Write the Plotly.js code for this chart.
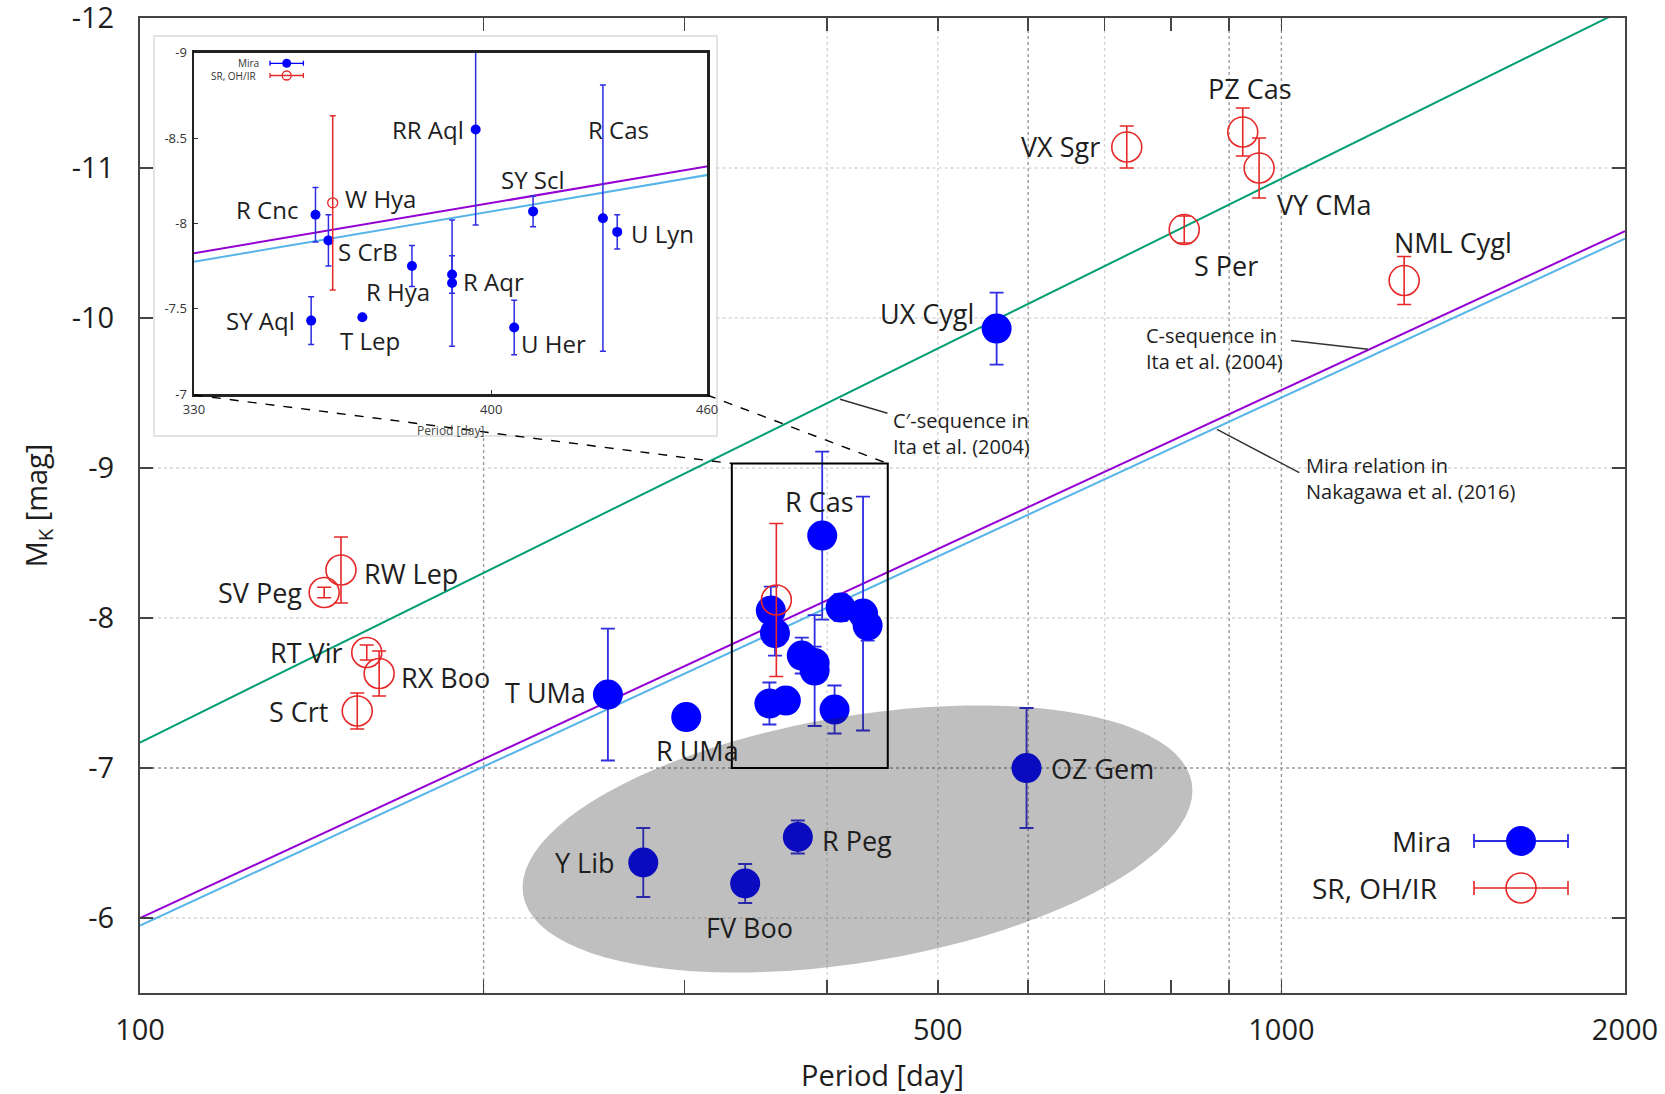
<!DOCTYPE html>
<html><head><meta charset="utf-8">
<script src="https://cdn.plot.ly/plotly-3.0.1.min.js"></script>
<style>html,body{margin:0;padding:0;background:#fff}#chart{width:1665px;height:1094px}</style>
</head><body><div id="chart"></div>
<script>
// ---------- DATA ----------
// Mira variables (filled blue)
const miraNames  = ["R Cnc","S CrB","SY Aql","T Lep","R Hya","R Aqr","R Aqr","RR Aql","SY Scl","U Her","R Cas","U Lyn","T UMa","R UMa","Y Lib","FV Boo","R Peg","OZ Gem","UX Cygl"];
const miraPeriod = [357, 360, 356, 368, 380, 390, 390, 396, 411, 406, 430, 434, 257, 301, 276, 339, 377, 598, 563];
const miraMK     = [-8.05,-7.90,-7.43,-7.45,-7.75,-7.70,-7.65,-8.55,-8.07,-7.39,-8.03,-7.95,-7.49,-7.34,-6.37,-6.23,-6.54,-7.00,-9.93];
const miraErr    = [0.16, 0.15, 0.14, 0.00, 0.12, 0.11, 0.37, 0.56, 0.09, 0.16, 0.78, 0.10, 0.44, 0.00, 0.23, 0.13, 0.11, 0.40, 0.24];

// SR, OH/IR (open red)
const srNames  = ["SV Peg","RW Lep","RT Vir","RX Boo","S Crt","W Hya","VX Sgr","PZ Cas","VY CMa","S Per","NML Cygl"];
const srPeriod = [145, 150, 158, 162, 155, 361, 732, 925, 956, 822, 1281];
const srMK     = [-8.17,-8.32,-7.77,-7.63,-7.38,-8.12,-11.14,-11.24,-11.00,-10.59,-10.25];
const srErr    = [0.035,0.22, 0.05, 0.15, 0.12, 0.51, 0.14, 0.16, 0.20, 0.09, 0.16];

// Period-luminosity relations (end points)
const relPeriod = [100, 2000];
const cPrimeMK  = [-7.17, -12.06];   // C'-sequence, Ita et al. (2004)
const cSeqMK    = [-6.00, -10.58];   // C-sequence, Ita et al. (2004)
const miraRelMK = [-5.95, -10.53];   // Mira relation, Nakagawa et al. (2016)

// Ticks
const xTickVals = [100,500,1000,2000];
const xTickText = ["100","500","1000","2000"];
const xMinorVals = [200,300,400,600,700,800,900];
const yTickVals = [-12,-11,-10,-9,-8,-7,-6];
const yTickText = ["-12","-11","-10","-9","-8","-7","-6"];
const insetXTickVals = [330,400,460];
const insetYTickVals = [-9,-8.5,-8,-7.5,-7];
const insetYTickText = ["-9","-8.5","-8","-7.5","-7"];

// ---------- STYLE / GEOMETRY ----------
const W=1665, H=1094, ML=140, MR=40, MT=18, MB=101;
const PW=W-ML-MR, PH=H-MT-MB;
const fx = px => (px-ML)/PW;
const fy = py => (H-MB-py)/PH;
const FONT = "Open Sans, Noto Sans, sans-serif";
const TXT = "#1e1e1e";
const BLUE="rgb(0,0,255)", BLUE_ERR="rgb(45,45,225)", RED="rgb(230,40,40)";
const GREEN="#009e73", PURPLE="#9400d3", LBLUE="#56b4e9";
const XR=[2, Math.log10(2000)], YR=[-5.5,-12.0005];
const xPaper = p => (Math.log10(p)-XR[0])/(XR[1]-XR[0]);
const yPaper = m => (m-YR[0])/(YR[1]-YR[0]);

// label placements: [name, set, xanchor, xshift, yshift]
const mainLabels = [
 ["SV Peg","sr","right",-20,0],["RW Lep","sr","left",21,-3],["RT Vir","sr","right",-22,0],
 ["RX Boo","sr","left",20,-4],["S Crt","sr","right",-27,0],["VX Sgr","sr","right",-25,1],
 ["PZ Cas","sr","center",7,44],["VY CMa","sr","left",16,-36],["S Per","sr","left",8,-36],
 ["NML Cygl","sr","left",-12,38],
 ["UX Cygl","mira","right",-21,15],["R Cas","mira","center",-44,112],["T UMa","mira","right",-20,2],
 ["R UMa","mira","center",11,-33],["Y Lib","mira","right",-26,0],["FV Boo","mira","center",4,-44],
 ["R Peg","mira","left",22,-3],["OZ Gem","mira","left",22,0]
];
const insetLabels = [
 ["R Cnc","mira","right",-15,5],["S CrB","mira","left",8,-11],["SY Aql","mira","right",-14,0],
 ["T Lep","mira","left",-24,-23],["R Hya","mira","left",-48,-25],["R Aqr","mira","left",9,-7],
 ["RR Aql","mira","right",-10,0],["SY Scl","mira","center",0,32],["U Her","mira","left",5,-16],
 ["R Cas","mira","left",-17,89],["U Lyn","mira","left",12,-2],["W Hya","sr","left",10,4]
];

function lookup(name,set){
  const names = set==="mira"?miraNames:srNames;
  const i = names.indexOf(name);
  return set==="mira"?[miraPeriod[i],miraMK[i]]:[srPeriod[i],srMK[i]];
}

const annotations=[];
mainLabels.forEach(([n,s,a,dx,dy])=>{
  const [p,m]=lookup(n,s);
  annotations.push({xref:"x",yref:"y",x:Math.log10(p),y:m,text:n,showarrow:false,xanchor:a,yanchor:"middle",
    xshift:dx,yshift:dy,font:{family:FONT,size:27,color:TXT}});
});
insetLabels.forEach(([n,s,a,dx,dy])=>{
  const [p,m]=lookup(n,s);
  annotations.push({xref:"x2",yref:"y2",x:Math.log10(p),y:m,text:n,showarrow:false,xanchor:a,yanchor:"middle",
    xshift:dx,yshift:dy,font:{family:FONT,size:24,color:TXT}});
});
// relation notes
[["C′-sequence in<br>Ita et al. (2004)",891,433.3],
 ["C-sequence in<br>Ita et al. (2004)",1143.6,348.9],
 ["Mira relation in<br>Nakagawa et al. (2016)",1304.3,478.6]].forEach(([t,px,py])=>{
  annotations.push({xref:"paper",yref:"paper",x:fx(px),y:fy(py),text:t,showarrow:false,xanchor:"left",
    yanchor:"middle",align:"left",font:{family:FONT,size:20,color:TXT}});
});
// main legend texts
annotations.push({xref:"paper",yref:"paper",x:fx(1453),y:fy(841),text:"Mira",showarrow:false,xanchor:"right",yanchor:"middle",font:{family:FONT,size:28,color:TXT}});
annotations.push({xref:"paper",yref:"paper",x:fx(1439),y:fy(888),text:"SR, OH/IR",showarrow:false,xanchor:"right",yanchor:"middle",font:{family:FONT,size:28,color:TXT}});
// inset legend texts
annotations.push({xref:"paper",yref:"paper",x:fx(261),y:fy(63.3),text:"Mira",showarrow:false,xanchor:"right",yanchor:"middle",font:{family:FONT,size:10,color:"#333"}});
annotations.push({xref:"paper",yref:"paper",x:fx(258),y:fy(75.5),text:"SR, OH/IR",showarrow:false,xanchor:"right",yanchor:"middle",font:{family:FONT,size:10,color:"#333"}});
// inset x title
annotations.push({xref:"paper",yref:"paper",x:fx(450),y:fy(430),text:"Period [day]",showarrow:false,xanchor:"center",yanchor:"middle",font:{family:FONT,size:12,color:"#444"}});

// ---------- SHAPES ----------
const shapes=[];
// inset panel background
shapes.push({type:"rect",xref:"paper",yref:"paper",x0:fx(154),x1:fx(717),y0:fy(436),y1:fy(36),
  fillcolor:"#ffffff",line:{color:"#dadada",width:1.5},layer:"below"});
// gridlines
const strong="#9c9c9c", faint="#d6d6d6";
[[200,strong,-9.21],[400,faint,-12],[500,faint,-12],[600,strong,-12],[700,faint,-12],[900,strong,-12],[1000,strong,-12]].forEach(([p,c,top])=>{
  shapes.push({type:"line",xref:"x",yref:"y",x0:p,x1:p,y0:-5.5,y1:top,line:{color:c,width:1.4,dash:"dot"},layer:"below"});
});
[[-6,faint,100],[-7,strong,100],[-8,faint,100],[-9,faint,100],[-10,faint,320],[-11,faint,320]].forEach(([m,c,left])=>{
  shapes.push({type:"line",xref:"x",yref:"y",x0:left,x1:2000,y0:m,y1:m,line:{color:c,width:1.4,dash:"dot"},layer:"below"});
});
// grey ellipse (highlight region)
(function(){
  const cx=857.5, cy=839, a=339, b=123, th=9.5*Math.PI/180;
  let d="";
  for(let i=0;i<=96;i++){
    const t=2*Math.PI*i/96;
    const px=cx+a*Math.cos(th)*Math.cos(t)-b*Math.sin(th)*Math.sin(t);
    const py=cy-(a*Math.sin(th)*Math.cos(t)+b*Math.cos(th)*Math.sin(t));
    d+=(i?"L":"M")+fx(px).toFixed(5)+","+fy(py).toFixed(5);
  }
  d+="Z";
  shapes.push({type:"path",xref:"paper",yref:"paper",path:d,fillcolor:"rgba(34,34,34,0.29)",line:{width:0},layer:"above"});
})();
// zoom box
const boxX=[330,452], boxY=[-7,-9.03];
shapes.push({type:"rect",xref:"x",yref:"y",x0:boxX[0],x1:boxX[1],y0:boxY[0],y1:boxY[1],line:{color:"#000",width:2},layer:"above"});
// dashed connectors from inset corners to the box
shapes.push({type:"line",xref:"paper",yref:"paper",x0:fx(194),y0:fy(395),x1:xPaper(boxX[0]),y1:yPaper(boxY[1]),line:{color:"#000",width:1.4,dash:"dash"},layer:"above"});
shapes.push({type:"line",xref:"paper",yref:"paper",x0:fx(707),y0:fy(395),x1:xPaper(boxX[1]),y1:yPaper(boxY[1]),line:{color:"#000",width:1.4,dash:"dash"},layer:"above"});
// leader lines
[[840,399.3,887.5,413.3],[1291,340.5,1368,349.3],[1217,429.3,1299.3,472.7]].forEach(([a,b,c,d])=>{
  shapes.push({type:"line",xref:"paper",yref:"paper",x0:fx(a),y0:fy(b),x1:fx(c),y1:fy(d),line:{color:"#333",width:1.5},layer:"above"});
});

// ---------- TRACES ----------
const traces=[];
function relLine(y,color,xa,ya){return {type:"scatter",mode:"lines",x:relPeriod,y:y,xaxis:xa,yaxis:ya,line:{color:color,width:2},showlegend:false,hoverinfo:"skip"};}
traces.push(relLine(cPrimeMK,GREEN,"x","y"));
traces.push(relLine(cSeqMK,PURPLE,"x","y"));
traces.push(relLine(miraRelMK,LBLUE,"x","y"));
traces.push({type:"scatter",mode:"markers",x:miraPeriod,y:miraMK,xaxis:"x",yaxis:"y",
  error_y:{type:"data",array:miraErr,visible:true,color:BLUE_ERR,thickness:1.8,width:7},
  marker:{color:BLUE,size:30,line:{width:0}},showlegend:false});
traces.push({type:"scatter",mode:"markers",x:srPeriod,y:srMK,xaxis:"x",yaxis:"y",
  error_y:{type:"data",array:srErr,visible:true,color:RED,thickness:1.6,width:7},
  marker:{symbol:"circle-open",color:RED,size:30,line:{width:1.6,color:RED}},showlegend:false});
// inset
traces.push(relLine(cSeqMK,PURPLE,"x2","y2"));
traces.push(relLine(miraRelMK,LBLUE,"x2","y2"));
const inR = p => p>=330 && p<=460;
const mi = miraPeriod.map((p,i)=>i).filter(i=>inR(miraPeriod[i]));
const si = srPeriod.map((p,i)=>i).filter(i=>inR(srPeriod[i]));
traces.push({type:"scatter",mode:"markers",x:mi.map(i=>miraPeriod[i]),y:mi.map(i=>miraMK[i]),xaxis:"x2",yaxis:"y2",
  error_y:{type:"data",array:mi.map(i=>miraErr[i]),visible:true,color:BLUE_ERR,thickness:1.5,width:3},
  marker:{color:BLUE,size:10},showlegend:false});
traces.push({type:"scatter",mode:"markers",x:si.map(i=>srPeriod[i]),y:si.map(i=>srMK[i]),xaxis:"x2",yaxis:"y2",
  error_y:{type:"data",array:si.map(i=>srErr[i]),visible:true,color:RED,thickness:1.5,width:3},
  marker:{symbol:"circle-open",color:RED,size:10,line:{width:1.3,color:RED}},showlegend:false});
// legend keys (drawn on a hidden full-paper axis pair)
traces.push({type:"scatter",mode:"markers",x:[fx(1521)],y:[fy(841)],xaxis:"x3",yaxis:"y3",
  error_x:{type:"constant",value:47/PW,color:BLUE_ERR,thickness:1.8,width:7},marker:{color:BLUE,size:30},showlegend:false,cliponaxis:false});
traces.push({type:"scatter",mode:"markers",x:[fx(1521)],y:[fy(888)],xaxis:"x3",yaxis:"y3",
  error_x:{type:"constant",value:47/PW,color:RED,thickness:1.6,width:7},marker:{symbol:"circle-open",color:RED,size:30,line:{width:1.6,color:RED}},showlegend:false,cliponaxis:false});
traces.push({type:"scatter",mode:"markers",x:[fx(286.7)],y:[fy(63.3)],xaxis:"x3",yaxis:"y3",
  error_x:{type:"constant",value:16.7/PW,color:BLUE,thickness:1.3,width:2.5},marker:{color:BLUE,size:9},showlegend:false,cliponaxis:false});
traces.push({type:"scatter",mode:"markers",x:[fx(286.7)],y:[fy(75.5)],xaxis:"x3",yaxis:"y3",
  error_x:{type:"constant",value:16.7/PW,color:RED,thickness:1.3,width:2.5},marker:{symbol:"circle-open",color:RED,size:9,line:{width:1.3,color:RED}},showlegend:false,cliponaxis:false});

// ---------- LAYOUT ----------
const layout={
  width:W,height:H,margin:{l:ML,r:MR,t:MT,b:MB},
  paper_bgcolor:"#fff",plot_bgcolor:"rgba(0,0,0,0)",
  font:{family:FONT,color:TXT},
  showlegend:false,hovermode:false,
  xaxis:{type:"log",range:XR,domain:[0,1],anchor:"y",
    tickmode:"array",tickvals:xTickVals,ticktext:xTickText,ticks:"inside",ticklen:13,tickwidth:1.5,tickcolor:"#444",
    minor:{tickmode:"array",tickvals:xMinorVals,ticks:"inside",ticklen:13,tickwidth:1.5,tickcolor:"#444",showgrid:false},
    showline:true,linecolor:"#444",linewidth:2,mirror:"ticks",showgrid:false,zeroline:false,
    tickfont:{family:FONT,size:29,color:TXT},ticklabelstandoff:10,ticklabeloverflow:"allow",
    title:{text:"Period [day]",font:{family:FONT,size:29,color:TXT},standoff:22}},
  yaxis:{range:YR,domain:[0,1],anchor:"x",tickmode:"array",tickvals:yTickVals,ticktext:yTickText,ticks:"inside",ticklen:13,tickwidth:1.5,tickcolor:"#444",
    showline:true,linecolor:"#444",linewidth:2,mirror:"ticks",showgrid:false,zeroline:false,
    tickfont:{family:FONT,size:29,color:TXT},ticklabelstandoff:18,ticklabeloverflow:"allow",
    title:{text:"M<sub>K</sub> [mag]",font:{family:FONT,size:29,color:TXT},standoff:16}},
  xaxis2:{type:"log",range:[Math.log10(330),Math.log10(460)],domain:[fx(194),fx(707.1)],anchor:"y2",
    tickvals:insetXTickVals,ticks:"inside",ticklen:4,tickcolor:"#333",showline:true,linecolor:"#222",linewidth:2.5,mirror:true,
    showgrid:false,zeroline:false,tickfont:{family:FONT,size:13,color:"#333"},ticklabelstandoff:2},
  yaxis2:{range:[-7,-9],domain:[fy(394),fy(52.7)],anchor:"x2",tickvals:insetYTickVals,ticktext:insetYTickText,
    ticks:"inside",ticklen:4,tickcolor:"#333",showline:true,linecolor:"#222",linewidth:2.5,mirror:true,
    showgrid:false,zeroline:false,tickfont:{family:FONT,size:13,color:"#333"},ticklabelstandoff:2},
  xaxis3:{domain:[0,1],range:[0,1],anchor:"y3",visible:false,fixedrange:true},
  yaxis3:{domain:[0,1],range:[0,1],anchor:"x3",visible:false,fixedrange:true},
  shapes:shapes,annotations:annotations
};
Plotly.newPlot("chart",traces,layout,{staticPlot:true,displayModeBar:false});
</script></body></html>
